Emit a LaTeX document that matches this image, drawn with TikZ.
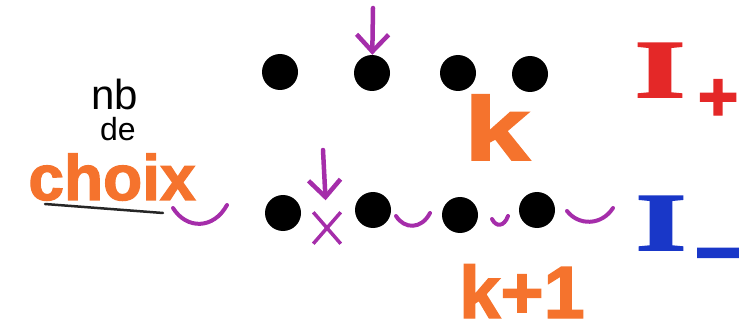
\documentclass[tikz,border=0pt]{standalone}
\usepackage{fontspec}
\usetikzlibrary{shapes.misc, arrows.meta}
\setmainfont{Liberation Sans}
\newfontfamily\markerfont[FakeBold=2]{Liberation Sans Bold}
\newfontfamily\markerserif[FakeBold=2]{Liberation Serif Bold}

\definecolor{penviolet}{RGB}{165,45,170}
\definecolor{penorange}{RGB}{245,115,45}
\definecolor{penred}{RGB}{228,40,40}
\definecolor{penblue}{RGB}{25,55,200}

\begin{document}
\begin{tikzpicture}[x=1pt, y=-1pt, >={Straight Barb[length=17pt, width=32pt]},
    dot/.style={circle, fill=black, inner sep=0pt, minimum size=36pt},
    slot/.style={penviolet, line width=4pt, line cap=round},
    pointer/.style={->, penviolet, line width=4.5pt, line cap=round},
    hand/.style={inner sep=0pt, anchor=base, font=\markerfont\fontsize{#1}{#1}\selectfont},
    thin hand/.style={inner sep=0pt, anchor=base, font=\fontsize{#1}{#1}\selectfont},
    roman hand/.style={inner sep=0pt, anchor=base, font=\markerserif\fontsize{#1}{#1}\selectfont},
  ]
    \useasboundingbox (0,0) rectangle (742,334);
    % label on the left
    \node[thin hand=42] (nb) at (115,110) {nb};
    \node[thin hand=32] (de) at (118,141) {de};
    \node[hand=64, text=penorange] (choix) at (112,200) {choix};
    \draw[line width=2.5pt, black!85, line cap=round](45,204)--(163,213);
    % upper row
    \foreach \n/\x/\y in {1/280/72, 2/372/73, 3/458/73, 4/530/74}{%
      \node[dot] (top\n) at (\x,\y) {};}
    \coordinate (topfrom) at (373,8);
    \draw[pointer] (topfrom) -- (top2);
    \node[hand=90, text=penorange] (k) at (497,160) {\scalebox{1.3}[1]{k}};
    \node[roman hand=82, text=penred] (Iplus) at (660,97) {\scalebox{1.6}[1]{I}};
    \node[hand=70, text=penred, anchor=center] (plus) at (718,100) {+};
    % lower row
    \foreach \n/\x/\y in {1/283/213, 2/373/210, 3/460/215, 4/537/210}{%
      \node[dot] (low\n) at (\x,\y) {};}
    \node[cross out, draw=penviolet, line width=3.5pt, minimum width=24pt,
      minimum height=28pt, inner sep=0pt] (gap) at (327,228) {};
    \coordinate (lowfrom) at (323,150);
    \draw[pointer, shorten >=12pt] (lowfrom) -- (gap);
    \foreach \x/\w/\y/\d in {200/27/208/16, 413/17/216/10, 500/8/219/6, 590/23/211/11}{%
      \draw[slot](\x-\w,\y) .. controls (\x-\w*0.5,\y+\d*1.35) and (\x+\w*0.5,\y+\d*1.35) .. (\x+\w,\y-3);}
    \node[hand=74, text=penorange] (kone) at (522,318) {k+1};
    \node[roman hand=82, text=penblue] (Iminus) at (661,250) {\scalebox{1.6}[1]{I}};
    \node[hand=80, text=penblue, anchor=center] (minus) at (718,264) {−};
\end{tikzpicture}
\end{document}
